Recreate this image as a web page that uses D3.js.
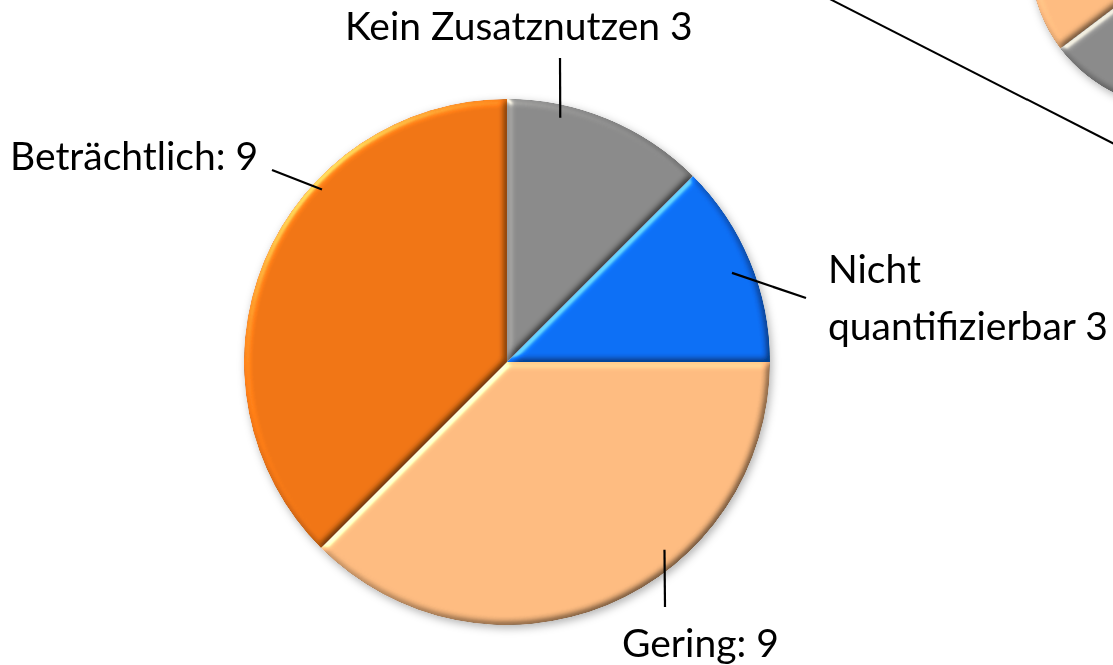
<!DOCTYPE html>
<html>
<head>
<meta charset="utf-8">
<script src="https://cdn.jsdelivr.net/npm/d3@7"></script>
<style>
  body { margin: 0; background: #fff; }
  svg { display: block; }
  .lbl { font-family: Lato, "Open Sans", sans-serif; font-size: 39px; fill: #000; }
</style>
</head>
<body>
<div id="chart"></div>
<script>
// data
var categories = ["Kein Zusatznutzen", "Nicht quantifizierbar", "Gering", "Beträchtlich"];
var values = [3, 3, 9, 9];
var colors = ["#8a8a8a", "#0a6ef5", "#fdbb80", "#f07514"];
var labels = [["Kein Zusatznutzen 3"], ["Nicht", "quantifizierbar 3"], ["Gering: 9"], ["Beträchtlich: 9"]];

// fragment of the neighbouring pie, cut off at the top right
var otherCategories = ["Kein Zusatznutzen", "Gering"];
var otherValues = [11, 6];
var otherColors = ["#8a8a8a", "#fdbb80"];

var width = 1113, height = 665;

var svg = d3.select("#chart")
  .append("svg")
    .attr("width", width)
    .attr("height", height);

var defs = svg.append("defs");

// bevel look of the slices
var bevel = defs.append("filter")
  .attr("id", "bevel")
  .attr("x", "-5%").attr("y", "-5%").attr("width", "110%").attr("height", "110%")
  .attr("color-interpolation-filters", "sRGB");
bevel.append("feGaussianBlur").attr("in", "SourceAlpha").attr("stdDeviation", 3.5).attr("result", "blur");
bevel.append("feDiffuseLighting")
    .attr("in", "blur").attr("surfaceScale", 3).attr("diffuseConstant", 1)
    .attr("lighting-color", "#fff").attr("result", "diff")
  .append("feDistantLight").attr("azimuth", 225).attr("elevation", 60);
bevel.append("feComposite")
  .attr("in", "SourceGraphic").attr("in2", "diff")
  .attr("operator", "arithmetic").attr("k1", 1.155).attr("k2", 0).attr("k3", 0).attr("k4", 0)
  .attr("result", "lit");
bevel.append("feSpecularLighting")
    .attr("in", "blur").attr("surfaceScale", 3).attr("specularConstant", 0.35)
    .attr("specularExponent", 30).attr("lighting-color", "#fff4c8").attr("result", "spec")
  .append("feDistantLight").attr("azimuth", 225).attr("elevation", 30);
bevel.append("feComposite").attr("in", "spec").attr("in2", "SourceAlpha").attr("operator", "in").attr("result", "specIn");
bevel.append("feComposite")
  .attr("in", "lit").attr("in2", "specIn")
  .attr("operator", "arithmetic").attr("k1", 0).attr("k2", 1).attr("k3", 1).attr("k4", 0)
  .attr("result", "out");
bevel.append("feComposite").attr("in", "out").attr("in2", "SourceAlpha").attr("operator", "in");

// soft shadow under the whole pie
var shadow = defs.append("filter")
  .attr("id", "shadow")
  .attr("x", "-10%").attr("y", "-10%").attr("width", "120%").attr("height", "120%");
shadow.append("feDropShadow")
  .attr("dx", 2).attr("dy", 3).attr("stdDeviation", 4)
  .attr("flood-color", "#000").attr("flood-opacity", 0.3);

var pie = d3.pie().sort(null).value(function(d) { return d; });

// main pie
var cx = 507, cy = 362, radius = 263;
var arc = d3.arc().innerRadius(0).outerRadius(radius);

var g = svg.append("g")
    .attr("transform", "translate(" + cx + "," + cy + ")")
    .attr("filter", "url(#shadow)");

g.selectAll("path")
  .data(pie(values))
  .enter()
  .append("path")
    .attr("d", arc)
    .attr("fill", function(d, i) { return colors[i]; })
    .attr("filter", "url(#bevel)");

// neighbouring pie fragment
var g2 = svg.append("g")
    .attr("transform", "translate(1180,-42)")
    .attr("filter", "url(#shadow)");
g2.selectAll("path")
  .data(pie(otherValues))
  .enter()
  .append("path")
    .attr("d", d3.arc().innerRadius(0).outerRadius(150))
    .attr("fill", function(d, i) { return otherColors[i]; })
    .attr("filter", "url(#bevel)");

// connector line to the other pie
svg.append("line")
  .attr("x1", 820).attr("y1", -6)
  .attr("x2", 1130).attr("y2", 152)
  .attr("stroke", "#000").attr("stroke-width", 2);

// labels: leader start angle (deg) and radius on the pie, leader end, text position
var labelLayout = [
  {angle: 12.3, r: 250, end: [560, 58],  text: [345, 40]},
  {angle: 68.4, r: 242, end: [806, 298], text: [828, 283]},
  {angle: 140,  r: 245, end: [665, 607], text: [622, 657]},
  {angle: 313,  r: 253, end: [272, 170], text: [10, 170]}
];

labelLayout.forEach(function(l, i) {
  var p = d3.pointRadial(l.angle * Math.PI / 180, l.r);
  svg.append("line")
    .attr("x1", cx + p[0]).attr("y1", cy + p[1])
    .attr("x2", l.end[0]).attr("y2", l.end[1])
    .attr("stroke", "#000").attr("stroke-width", 2.2);

  var t = svg.append("text")
    .attr("class", "lbl")
    .attr("x", l.text[0]).attr("y", l.text[1]);
  labels[i].forEach(function(line, j) {
    t.append("tspan")
      .attr("x", l.text[0])
      .attr("dy", j === 0 ? 0 : 57)
      .text(line);
  });
});
</script>
</body>
</html>
